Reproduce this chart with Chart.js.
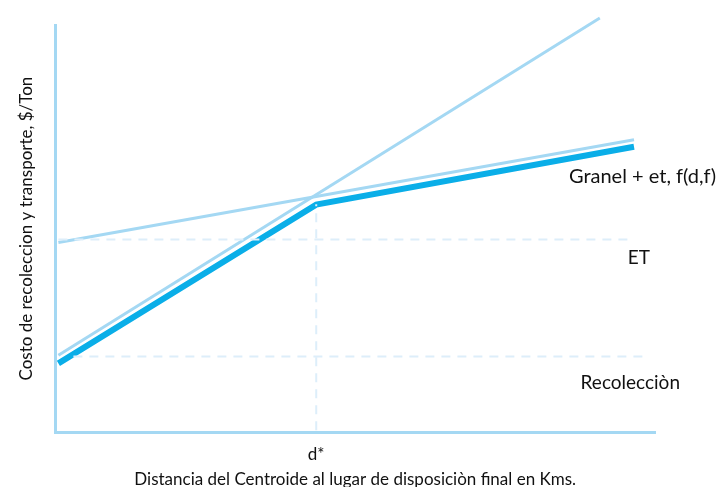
<!DOCTYPE html>
<html>
<head>
<meta charset="utf-8">
<script src="https://cdn.jsdelivr.net/npm/chart.js@4.4.0/dist/chart.umd.min.js"></script>
<style>
  html, body { margin: 0; padding: 0; background: #ffffff; }
  #wrap { width: 719px; height: 487px; }
</style>
</head>
<body>
<div id="wrap"><canvas id="costChart" width="719" height="487"></canvas></div>
<script>
// Data (x = distancia, y = costo)
const dStar = 43.5;
const granelX = [0.5, 43.5, 96.5];
const granelY = [16.9, 55.9, 70.1];
const recoleccionX = [0.5, 90.8];
const recoleccionY = [18.9, 101.7];
const etX = [0.5, 96.5];
const etY = [46.6, 71.8];
const etLevelX = [0.5, 96.3];
const etLevelY = [47.3, 47.3];
const recLevelX = [3, 98.3];
const recLevelY = [18.6, 18.6];
const dStarLineY = [0.5, 56];
const xTicks = [dStar];
const xTickLabels = ['d*'];

const lightBlue = '#a4d8f3';
const strongBlue = '#0aaee8';
const dashBlue = '#ddeefa';
const textFont = "Lato, 'Open Sans', sans-serif";

function pts(xs, ys) {
    return xs.map((x, i) => ({ x: x, y: ys[i] }));
}

// Labels drawn next to the lines
const labelPlugin = {
    id: 'labels',
    afterDraw(chart) {
        const ctx = chart.ctx;
        const ys = chart.scales.y;
        ctx.save();
        ctx.fillStyle = '#111111';
        ctx.textAlign = 'right';
        ctx.textBaseline = 'middle';
        ctx.font = '20px ' + textFont;
        ctx.fillText('Granel + et, f(d,f)', 716, ys.getPixelForValue(granelY[2]) + 30);
        ctx.font = '19px ' + textFont;
        ctx.fillText('ET', 650, ys.getPixelForValue(etLevelY[0]) + 18);
        ctx.fillText('Recolecciòn', 680, ys.getPixelForValue(recLevelY[0]) + 26);
        ctx.restore();
    }
};

const config = {
    type: 'line',
    data: {
        datasets: [
            {
                data: pts(etLevelX, etLevelY),
                borderColor: dashBlue,
                borderWidth: 2,
                borderDash: [9, 7],
                pointRadius: 0
            },
            {
                data: pts(recLevelX, recLevelY),
                borderColor: dashBlue,
                borderWidth: 2,
                borderDash: [9, 7],
                pointRadius: 0
            },
            {
                data: pts([dStar, dStar], dStarLineY),
                borderColor: dashBlue,
                borderWidth: 2,
                borderDash: [9, 7],
                pointRadius: 0
            },
            {
                data: pts(recoleccionX, recoleccionY),
                borderColor: lightBlue,
                borderWidth: 3,
                pointRadius: 0,
                clip: false
            },
            {
                data: pts(etX, etY),
                borderColor: lightBlue,
                borderWidth: 3,
                pointRadius: 0
            },
            {
                data: pts(granelX, granelY),
                borderColor: strongBlue,
                borderWidth: 6,
                pointRadius: 0,
                borderCapStyle: 'butt'
            }
        ]
    },
    options: {
        responsive: false,
        animation: false,
        layout: { padding: { left: 16, right: 64, top: 25, bottom: 0 } },
        plugins: {
            legend: { display: false },
            tooltip: { enabled: false }
        },
        scales: {
            x: {
                type: 'linear',
                min: 0,
                max: 100,
                grid: { display: false, drawTicks: false },
                border: { color: lightBlue, width: 3 },
                afterBuildTicks: (axis) => {
                    axis.ticks = xTicks.map(v => ({ value: v }));
                },
                ticks: {
                    color: '#111111',
                    font: { family: textFont, size: 17 },
                    padding: 12,
                    maxRotation: 0,
                    callback: (v) => xTickLabels[xTicks.indexOf(v)]
                },
                title: {
                    display: true,
                    text: 'Distancia del Centroide al lugar de disposiciòn final en Kms.',
                    color: '#111111',
                    font: { family: textFont, size: 17 },
                    padding: { top: -7, bottom: -3 }
                }
            },
            y: {
                type: 'linear',
                min: 0,
                max: 100,
                grid: { display: false, drawTicks: false },
                border: { color: lightBlue, width: 3 },
                ticks: { display: false },
                title: {
                    display: true,
                    text: 'Costo de recoleccion y transporte, $/Ton',
                    color: '#111111',
                    font: { family: textFont, size: 17 },
                    padding: { top: 0, bottom: 19 }
                }
            }
        }
    },
    plugins: [labelPlugin]
};

new Chart(document.getElementById('costChart'), config);
</script>
</body>
</html>
